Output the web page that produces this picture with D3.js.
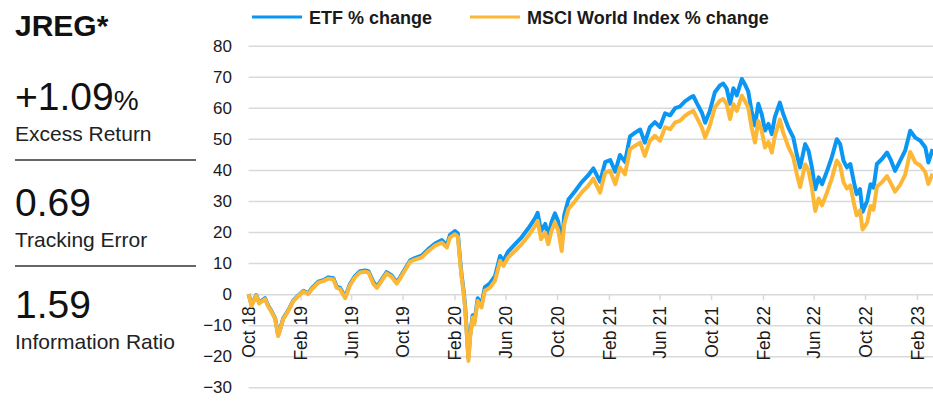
<!DOCTYPE html>
<html>
<head>
<meta charset="utf-8">
<script src="https://cdn.jsdelivr.net/npm/d3@7"></script>
<style>
  body { margin: 0; background: #fff; }
  text { font-family: "Liberation Sans", Arial, sans-serif; }
</style>
</head>
<body>
<script>
// series labels
var seriesNames = ["ETF % change", "MSCI World Index % change"];

// dates of the sampled points
var dates = [
  "2018-10-01","2018-10-08","2018-10-19","2018-10-26","2018-11-09","2018-11-16","2018-11-23","2018-12-03","2018-12-10","2018-12-14","2018-12-22",
  "2019-01-03","2019-01-15","2019-01-27","2019-02-08","2019-02-19","2019-02-28","2019-03-15","2019-03-27","2019-04-08","2019-04-20","2019-04-28","2019-05-06","2019-05-18","2019-05-29","2019-06-10","2019-06-22","2019-07-04","2019-07-12","2019-07-24","2019-08-01","2019-08-12","2019-08-24","2019-09-05","2019-09-17","2019-09-25","2019-10-07","2019-10-19","2019-10-30","2019-11-15","2019-12-01","2019-12-17",
  "2020-01-02","2020-01-14","2020-01-21","2020-02-02","2020-02-09","2020-02-14","2020-02-18","2020-02-22","2020-02-26","2020-03-01","2020-03-05","2020-03-09","2020-03-15","2020-03-19","2020-03-27","2020-04-05","2020-04-13","2020-04-25","2020-05-07","2020-05-19","2020-05-27","2020-06-07","2020-06-23","2020-07-09","2020-07-25","2020-08-10","2020-08-16","2020-08-24","2020-09-03","2020-09-10","2020-09-18","2020-09-26","2020-10-04","2020-10-12","2020-10-18","2020-10-28","2020-11-13","2020-11-28","2020-12-14","2020-12-26",
  "2021-01-11","2021-01-23","2021-02-04","2021-02-16","2021-02-27","2021-03-11","2021-03-23","2021-04-04","2021-04-16","2021-04-27","2021-05-09","2021-05-21","2021-06-02","2021-06-14","2021-06-26","2021-07-08","2021-07-19","2021-07-31","2021-08-12","2021-08-20","2021-08-28","2021-09-09","2021-09-17","2021-09-28","2021-10-10","2021-10-22","2021-10-30","2021-11-07","2021-11-15","2021-11-23","2021-12-01","2021-12-13","2021-12-20","2021-12-28",
  "2022-01-05","2022-01-13","2022-01-21","2022-01-29","2022-02-06","2022-02-14","2022-02-22","2022-03-01","2022-03-13","2022-03-21","2022-04-02","2022-04-14","2022-04-22","2022-04-30","2022-05-12","2022-05-20","2022-05-28","2022-06-05","2022-06-13","2022-06-21","2022-07-03","2022-07-14","2022-07-26","2022-08-03","2022-08-11","2022-08-19","2022-08-27","2022-09-04","2022-09-11","2022-09-19","2022-09-25","2022-10-06","2022-10-14","2022-10-21","2022-10-29","2022-11-10","2022-11-22","2022-11-30","2022-12-11","2022-12-23",
  "2023-01-04","2023-01-16","2023-01-28","2023-02-09","2023-02-21","2023-02-28","2023-03-10"
];

// ETF cumulative % change
var etf = [
  0, -3.5, -0.3, -2.8, -1.3, -3.6, -5.2, -7.8, -13.2, -11.6, -7.8,
  -5.2, -2.0, -0.4, 1.1, 0.3, 1.9, 4.0, 4.5, 5.4, 5.1, 2.4, 2.0, -0.9, 3.2, 5.8, 7.4, 7.6, 7.4, 3.8, 2.4, 4.6, 7.1, 6.0, 3.8, 5.4, 8.2, 10.9, 11.6, 12.4, 14.5, 16.3,
  17.4, 15.8, 19.0, 20.3, 19.5, 11.5, 6.0, 1.8, -3.6, -12.0, -20.5, -13.2, -6.8, -9.0, -1.3, -3.3, 2.3, 3.5, 5.8, 12.3, 10.8, 13.7, 16.0, 18.3, 21.2, 24.5, 26.2, 20.3, 22.6, 18.8, 23.2, 26.0, 23.3, 15.5, 25.4, 30.5, 33.2, 36.0, 38.3, 40.5,
  36.2, 42.5, 43.2, 39.4, 44.8, 42.6, 50.8, 52.0, 53.0, 48.8, 53.8, 55.4, 53.8, 58.2, 57.6, 59.9, 60.4, 62.1, 63.2, 63.8, 61.6, 58.5, 55.2, 59.0, 65.0, 67.2, 67.8, 66.2, 61.3, 66.3, 64.0, 69.3, 67.6, 65.3,
  59.0, 54.3, 61.3, 58.0, 52.7, 54.8, 51.5, 56.9, 61.7, 58.0, 53.7, 50.4, 45.1, 40.8, 48.3, 46.2, 40.8, 33.8, 37.6, 35.4, 39.7, 44.0, 49.9, 48.3, 42.9, 40.8, 41.9, 36.5, 32.2, 33.8, 26.5, 30.0, 35.4, 34.3, 41.9, 43.5, 45.6, 43.5, 39.7, 42.9,
  46.2, 52.6, 50.4, 49.4, 47.2, 42.4, 46.7
];

// MSCI World Index cumulative % change
var msci = [
  0, -3.8, -0.5, -3.0, -1.6, -3.8, -5.4, -8.0, -13.5, -11.8, -8.0,
  -5.4, -2.2, -0.6, 0.9, 0.0, 1.6, 3.7, 4.2, 5.0, 4.7, 2.0, 1.6, -1.3, 2.8, 5.4, 7.0, 7.2, 7.0, 3.2, 2.0, 4.2, 6.7, 5.6, 3.4, 5.0, 7.8, 10.5, 11.1, 11.8, 13.9, 15.6,
  16.6, 15.0, 18.2, 19.3, 18.5, 10.7, 5.3, 1.1, -4.3, -12.9, -21.5, -14.0, -7.5, -9.7, -2.2, -4.3, 1.1, 2.1, 4.3, 10.7, 9.1, 11.8, 13.9, 16.1, 18.8, 22.0, 23.6, 17.7, 19.8, 16.1, 20.4, 23.1, 20.4, 13.9, 22.5, 27.4, 30.0, 32.7, 34.9, 37.2,
  32.7, 39.2, 39.7, 35.4, 40.8, 38.6, 46.7, 47.8, 48.8, 44.5, 49.4, 51.0, 49.4, 53.7, 53.1, 55.3, 55.8, 57.4, 58.5, 59.0, 56.9, 53.7, 50.4, 54.2, 60.1, 62.3, 62.8, 61.2, 56.4, 61.2, 59.0, 63.9, 62.3, 60.1,
  53.7, 48.8, 55.8, 52.6, 47.2, 49.0, 45.6, 50.8, 56.2, 52.0, 47.5, 44.0, 38.8, 34.5, 41.8, 39.8, 34.2, 26.8, 30.8, 28.6, 32.8, 37.2, 43.0, 41.4, 36.0, 34.0, 35.0, 29.6, 25.4, 27.0, 20.8, 23.0, 28.4, 27.2, 34.6, 36.0, 38.0, 36.0, 33.0, 35.2,
  38.4, 45.8, 42.4, 41.4, 39.2, 35.5, 38.8
];

// axis ticks
var yTicks = [-30, -20, -10, 0, 10, 20, 30, 40, 50, 60, 70, 80];
var xTickLabels = ["Oct 18","Feb 19","Jun 19","Oct 19","Feb 20","Jun 20","Oct 20","Feb 21","Jun 21","Oct 21","Feb 22","Jun 22","Oct 22","Feb 23"];

// side panel stats
var stats = [
  {value: "+1.09", unit: "%", label: "Excess Return"},
  {value: "0.69", unit: "", label: "Tracking Error"},
  {value: "1.59", unit: "", label: "Information Ratio"}
];

var W = 933, H = 415;
var parseDate = d3.timeParse("%Y-%m-%d");
var parseTick = d3.timeParse("%b %y");

var rows = dates.map(function(d, i) {
  return {date: parseDate(d), etf: etf[i], msci: msci[i]};
});

var svg = d3.select("body").append("svg")
    .attr("width", W)
    .attr("height", H);

// scales
var plotLeft = 248.6;
var x = d3.scaleTime()
    .domain([parseDate("2018-10-01"), parseDate("2023-03-11")])
    .range([plotLeft, W]);
var y = d3.scaleLinear()
    .domain([-30, 80])
    .range([387.3, 45.7]);

// gridlines
var grid = svg.append("g")
    .attr("transform", "translate(" + plotLeft + ",0)")
    .call(d3.axisLeft(y).tickValues(yTicks).tickSize(-(W - plotLeft)).tickFormat(""));
grid.select(".domain").remove();
grid.selectAll("line").attr("stroke", "#d9d9d9").attr("stroke-width", 1.5);

// y labels
var yAxis = svg.append("g")
    .attr("transform", "translate(232,0)")
    .call(d3.axisLeft(y).tickValues(yTicks).tickSize(0).tickPadding(0));
yAxis.select(".domain").remove();
yAxis.selectAll("text")
    .attr("font-size", 17)
    .attr("fill", "#1a1a1a")
    .style("font-family", "'Liberation Sans', Arial, sans-serif");

// x axis on the zero line
var xAxis = svg.append("g")
    .attr("transform", "translate(0," + y(0) + ")")
    .call(d3.axisBottom(x)
      .tickValues(xTickLabels.map(parseTick))
      .tickFormat(d3.timeFormat("%b %y"))
      .tickSize(6));
xAxis.select(".domain").remove();
xAxis.selectAll("line").attr("stroke", "#d9d9d9").attr("stroke-width", 1.5);
xAxis.selectAll("text")
    .attr("transform", "rotate(-90)")
    .attr("text-anchor", "end")
    .attr("x", -12)
    .attr("y", 0)
    .attr("dy", "0.36em")
    .attr("font-size", 17.5)
    .attr("fill", "#1a1a1a")
    .style("font-family", "'Liberation Sans', Arial, sans-serif");

// lines
var colors = ["#0a96f2", "#fdb737"];
var lineEtf = d3.line().x(function(d) { return x(d.date); }).y(function(d) { return y(d.etf); });
var lineMsci = d3.line().x(function(d) { return x(d.date); }).y(function(d) { return y(d.msci); });

svg.append("path").datum(rows)
    .attr("fill", "none").attr("stroke", colors[0]).attr("stroke-width", 4)
    .attr("stroke-linejoin", "round")
    .attr("d", lineEtf);
svg.append("path").datum(rows)
    .attr("fill", "none").attr("stroke", colors[1]).attr("stroke-width", 4)
    .attr("stroke-linejoin", "round")
    .attr("d", lineMsci);

// legend
var legendX = [252, 470];
seriesNames.forEach(function(name, i) {
  svg.append("line")
      .attr("x1", legendX[i]).attr("x2", legendX[i] + 50)
      .attr("y1", 17).attr("y2", 17)
      .attr("stroke", colors[i]).attr("stroke-width", 3);
  svg.append("text")
      .attr("x", legendX[i] + 57).attr("y", 23.5)
      .attr("font-size", 18).attr("font-weight", "bold").attr("fill", "#1a1a1a")
      .text(name);
});

// side panel
svg.append("text")
    .attr("x", 15).attr("y", 36)
    .attr("font-size", 30).attr("font-weight", "bold").attr("fill", "#111")
    .text("JREG*");

var statY = [110, 216, 318];
stats.forEach(function(s, i) {
  var t = svg.append("text")
      .attr("x", 15).attr("y", statY[i])
      .attr("font-size", 39).attr("fill", "#111");
  t.append("tspan").text(s.value);
  if (s.unit) t.append("tspan").attr("font-size", 28).text(s.unit);
  svg.append("text")
      .attr("x", 15).attr("y", statY[i] + 31)
      .attr("font-size", 21).attr("fill", "#222")
      .text(s.label);
  if (i < 2) {
    svg.append("line")
        .attr("x1", 15).attr("x2", 196)
        .attr("y1", statY[i] + 50).attr("y2", statY[i] + 50)
        .attr("stroke", "#333").attr("stroke-width", 1.5);
  }
});
</script>
</body>
</html>
